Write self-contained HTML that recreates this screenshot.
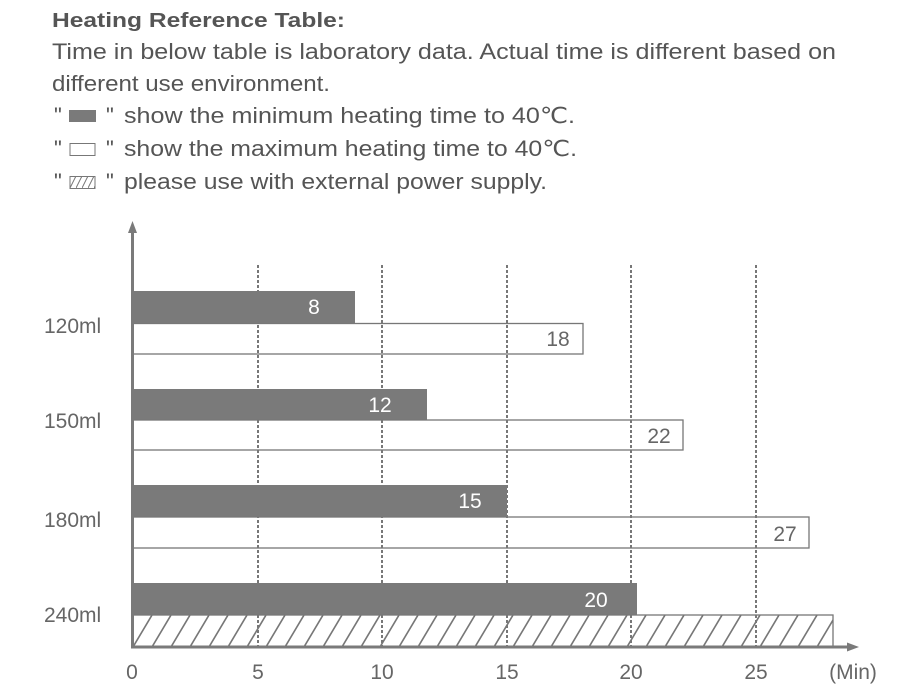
<!DOCTYPE html>
<html><head><meta charset="utf-8"><style>
html,body{margin:0;padding:0;background:#fff;}
svg{display:block;font-family:"Liberation Sans","DejaVu Sans",sans-serif;}
</style></head><body>
<svg width="908" height="688" viewBox="0 0 908 688" xmlns="http://www.w3.org/2000/svg">
<defs>
<pattern id="h" patternUnits="userSpaceOnUse" width="19" height="32" x="133" y="615">
<line x1="0" y1="32" x2="19" y2="0" stroke="#777" stroke-width="1.6"/>
<line x1="-19" y1="32" x2="0" y2="0" stroke="#777" stroke-width="1.6"/>
<line x1="19" y1="32" x2="38" y2="0" stroke="#777" stroke-width="1.6"/>
</pattern>
<pattern id="hs" patternUnits="userSpaceOnUse" width="6" height="12" x="70" y="176">
<line x1="0" y1="12" x2="6" y2="0" stroke="#777" stroke-width="1"/>
</pattern>
</defs>
<g fill="#555" font-size="22">
<text x="52" y="27" font-weight="bold" font-size="20" textLength="293" lengthAdjust="spacingAndGlyphs">Heating Reference Table:</text>
<text x="52" y="59" textLength="784" lengthAdjust="spacingAndGlyphs">Time in below table is laboratory data. Actual time is different based on</text>
<text x="52" y="91" textLength="278" lengthAdjust="spacingAndGlyphs">different use environment.</text>
<text x="54" y="123">"</text><rect x="69" y="110" width="27" height="12" fill="#7a7a7a"/><text x="106" y="123">"</text>
<text x="124" y="123" textLength="451" lengthAdjust="spacingAndGlyphs">show the minimum heating time to 40℃.</text>
<text x="54" y="156">"</text><rect x="70" y="143.5" width="25" height="12" fill="#fff" stroke="#777"/><text x="106" y="156">"</text>
<text x="124" y="156" textLength="453" lengthAdjust="spacingAndGlyphs">show the maximum heating time to 40℃.</text>
<text x="54" y="189">"</text><rect x="70" y="176.5" width="25" height="12" fill="url(#hs)" stroke="#777"/><text x="106" y="189">"</text>
<text x="124" y="189" textLength="423" lengthAdjust="spacingAndGlyphs">please use with external power supply.</text>
</g>
<g stroke="#777" stroke-width="2" stroke-dasharray="3,2">
<line x1="258" y1="265" x2="258" y2="647"/>
<line x1="382" y1="265" x2="382" y2="647"/>
<line x1="507" y1="265" x2="507" y2="647"/>
<line x1="631" y1="265" x2="631" y2="647"/>
<line x1="756" y1="265" x2="756" y2="647"/>
</g>
<g fill="#7a7a7a">
<rect x="133" y="291" width="222" height="32"/>
<rect x="133" y="389" width="294" height="31"/>
<rect x="133" y="485" width="374" height="32"/>
<rect x="133" y="583" width="504" height="32"/>
</g>
<g fill="none" stroke="#777" stroke-width="1.3">
<rect x="133" y="323.5" width="450" height="30.5"/>
<rect x="133" y="420" width="550" height="30"/>
<rect x="133" y="517" width="676" height="31"/>
</g>
<rect x="133" y="615" width="700" height="32" fill="url(#h)" stroke="#777" stroke-width="1.3"/>
<line x1="132.5" y1="230" x2="132.5" y2="648" stroke="#7a7a7a" stroke-width="3"/>
<polygon points="132.5,221 128,233 137,233" fill="#7a7a7a"/>
<line x1="131" y1="647" x2="850" y2="647" stroke="#7a7a7a" stroke-width="3"/>
<polygon points="859,647 847,642.5 847,651.5" fill="#7a7a7a"/>
<g font-size="21" fill="#fff" text-anchor="middle">
<text x="314" y="314">8</text>
<text x="380" y="412">12</text>
<text x="470" y="508">15</text>
<text x="596" y="607">20</text>
</g>
<g font-size="21" fill="#666" text-anchor="middle">
<text x="558" y="346">18</text>
<text x="659" y="443">22</text>
<text x="785" y="541">27</text>
</g>
<g font-size="21" fill="#666">
<text x="44" y="333">120ml</text>
<text x="44" y="428">150ml</text>
<text x="44" y="527">180ml</text>
<text x="44" y="622">240ml</text>
</g>
<g font-size="21" fill="#666" text-anchor="middle">
<text x="132" y="679">0</text>
<text x="258" y="679">5</text>
<text x="382" y="679">10</text>
<text x="507" y="679">15</text>
<text x="631" y="679">20</text>
<text x="756" y="679">25</text>
<text x="853" y="679">(Min)</text>
</g>
</svg>
</body></html>
